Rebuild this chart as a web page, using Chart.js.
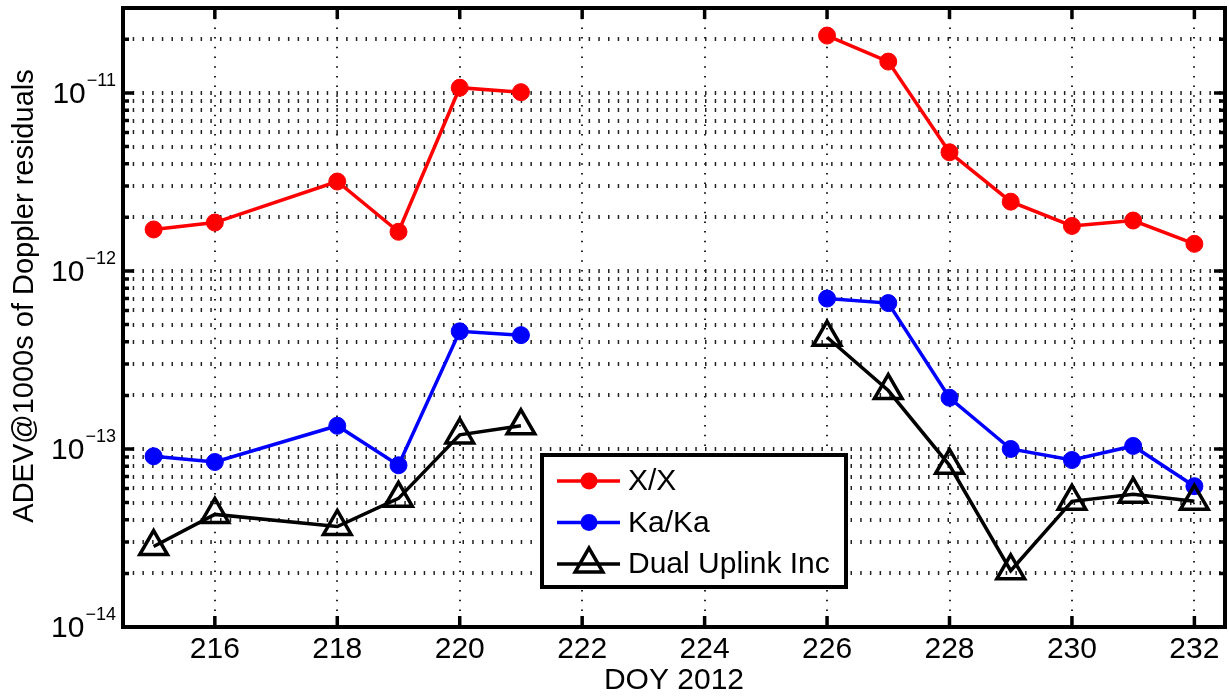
<!DOCTYPE html>
<html>
<head>
<meta charset="utf-8">
<script src="https://cdn.jsdelivr.net/npm/chart.js@4/dist/chart.umd.min.js"></script>
<style>
  body { margin: 0; background: #fff; }
  #wrap { width: 1229px; height: 698px; }
</style>
</head>
<body>
<div id="wrap"><canvas id="adev" width="1229" height="698"></canvas></div>
<script>
// values (DOY 2012, ADEV at 1000 s)
const days = [215, 216, 218, 219, 220, 221, 226, 227, 228, 229, 230, 231, 232];
const xxVals = [1.71e-12, 1.87e-12, 3.18e-12, 1.66e-12, 1.07e-11, 1.01e-11, 2.1e-11, 1.5e-11, 4.64e-12, 2.45e-12, 1.79e-12, 1.92e-12, 1.42e-12];
const kaVals = [9.1e-14, 8.45e-14, 1.35e-13, 8.1e-14, 4.58e-13, 4.36e-13, 7.0e-13, 6.6e-13, 1.94e-13, 1.0e-13, 8.67e-14, 1.04e-13, 6.18e-14];
const dualVals = [2.83e-14, 4.29e-14, 3.67e-14, 5.28e-14, 1.2e-13, 1.35e-13, 4.24e-13, 2.13e-13, 8.1e-14, 2.07e-14, 5.08e-14, 5.57e-14, 5.08e-14];
const seriesNames = ['X/X', 'Ka/Ka', 'Dual Uplink Inc'];

const xTicks = [216, 218, 220, 222, 224, 226, 228, 230, 232];
const yDecades = [-14, -13, -12, -11];
const xMin = 214.5, xMax = 232.5;
const yMin = 1e-14, yMax = 3e-11;

const FONT = "'Liberation Sans', Arial, Helvetica, sans-serif";
Chart.defaults.font.family = FONT;
Chart.defaults.color = '#000';

function pts(vals) {
    return days.map((d, i) => ({ x: d, y: vals[i] }));
}

// no line across the missing days 222-225
const gapSegment = {
    borderColor: ctx => (ctx.p1.parsed.x - ctx.p0.parsed.x > 3 ? 'rgba(0,0,0,0)' : undefined)
};

function drawMarker(ctx, style, x, y, r, color) {
    ctx.beginPath();
    if (style === 'circle') {
        ctx.arc(x, y, r, 0, Math.PI * 2);
        ctx.fillStyle = color;
        ctx.fill();
    } else {
        ctx.moveTo(x, y - r);
        ctx.lineTo(x + r * Math.sin(2 * Math.PI / 3), y + r / 2);
        ctx.lineTo(x - r * Math.sin(2 * Math.PI / 3), y + r / 2);
        ctx.closePath();
        ctx.lineWidth = 3.5;
        ctx.strokeStyle = color;
        ctx.stroke();
    }
}

const framePlugin = {
    id: 'frame',
    afterDatasetsDraw(chart) {
        const { ctx, chartArea: a, scales: { x, y } } = chart;
        ctx.save();

        // inward tick marks
        ctx.strokeStyle = '#000';
        ctx.lineWidth = 3.5;
        ctx.beginPath();
        xTicks.forEach(v => {
            const px = x.getPixelForValue(v);
            ctx.moveTo(px, a.bottom); ctx.lineTo(px, a.bottom - 11);
            ctx.moveTo(px, a.top); ctx.lineTo(px, a.top + 11);
        });
        y.ticks.forEach(t => {
            const py = y.getPixelForValue(t.value);
            const len = t.major ? 11 : 6;
            ctx.moveTo(a.left, py); ctx.lineTo(a.left + len, py);
            ctx.moveTo(a.right, py); ctx.lineTo(a.right - len, py);
        });
        ctx.stroke();
        ctx.lineWidth = 4;
        ctx.strokeRect(a.left, a.top, a.width, a.height);

        // y tick labels 10^n
        ctx.fillStyle = '#000';
        ctx.textBaseline = 'middle';
        ctx.textAlign = 'left';
        yDecades.forEach(e => {
            const py = y.getPixelForValue(Math.pow(10, e));
            const exp = '\u2212' + Math.abs(e);
            ctx.font = '18px ' + FONT;
            const ew = ctx.measureText(exp).width;
            ctx.font = '30px ' + FONT;
            const bw = ctx.measureText('10').width;
            const right = a.left - 7;
            ctx.fillText('10', right - ew - bw - 1, py + 2);
            ctx.font = '18px ' + FONT;
            ctx.fillText(exp, right - ew, py - 12);
        });

        // y axis title
        ctx.save();
        ctx.translate(33, 296);
        ctx.rotate(-Math.PI / 2);
        ctx.font = '29px ' + FONT;
        ctx.textAlign = 'center';
        ctx.textBaseline = 'alphabetic';
        ctx.fillText('ADEV@1000s of Doppler residuals', 0, 0);
        ctx.restore();

        // legend box
        const lx = 542, ly = 455, lw = 304, lh = 132;
        ctx.fillStyle = '#fff';
        ctx.fillRect(lx, ly, lw, lh);
        ctx.lineWidth = 4;
        ctx.strokeStyle = '#000';
        ctx.strokeRect(lx, ly, lw, lh);
        chart.data.datasets.forEach((ds, i) => {
            const ry = 481 + i * 41.5;
            ctx.beginPath();
            ctx.moveTo(557, ry); ctx.lineTo(620, ry);
            ctx.lineWidth = 3.5;
            ctx.strokeStyle = ds.borderColor;
            ctx.stroke();
            drawMarker(ctx, ds.pointStyle, 589, ry, ds.pointRadius, ds.borderColor);
            ctx.fillStyle = '#000';
            ctx.font = '30px ' + FONT;
            ctx.textAlign = 'left';
            ctx.textBaseline = 'middle';
            ctx.fillText(ds.label, 628, ry + 1);
        });

        ctx.restore();
    }
};

new Chart(document.getElementById('adev').getContext('2d'), {
    type: 'line',
    data: {
        datasets: [
            {
                label: seriesNames[0],
                data: pts(xxVals),
                borderColor: '#ff0000',
                backgroundColor: '#ff0000',
                borderWidth: 3.5,
                pointStyle: 'circle',
                pointRadius: 8.5,
                pointBorderWidth: 1,
                segment: gapSegment,
                order: 3
            },
            {
                label: seriesNames[1],
                data: pts(kaVals),
                borderColor: '#0000ff',
                backgroundColor: '#0000ff',
                borderWidth: 3.5,
                pointStyle: 'circle',
                pointRadius: 8.5,
                pointBorderWidth: 1,
                segment: gapSegment,
                order: 2
            },
            {
                label: seriesNames[2],
                data: pts(dualVals),
                borderColor: '#000000',
                backgroundColor: 'rgba(0,0,0,0)',
                borderWidth: 3.5,
                pointStyle: 'triangle',
                pointRadius: 16,
                pointBorderWidth: 3.5,
                segment: gapSegment,
                order: 1
            }
        ]
    },
    options: {
        responsive: false,
        animation: false,
        devicePixelRatio: 1,
        layout: { autoPadding: false, padding: { top: 8, right: 4, left: 0, bottom: 0 } },
        plugins: {
            legend: { display: false },
            tooltip: { enabled: false }
        },
        scales: {
            x: {
                type: 'linear',
                min: xMin,
                max: xMax,
                afterBuildTicks: scale => { scale.ticks = xTicks.map(v => ({ value: v })); },
                afterFit: scale => { scale.height = 71; },
                ticks: {
                    font: { size: 30 },
                    color: '#000',
                    padding: 5,
                    maxRotation: 0,
                    callback: v => String(v)
                },
                grid: { color: '#222', lineWidth: 2, drawTicks: false },
                border: { display: false, dash: [1.5, 8.2] },
                title: {
                    display: true,
                    text: 'DOY 2012',
                    font: { size: 30, lineHeight: 1 },
                    color: '#000',
                    padding: { top: 0, bottom: 2 }
                }
            },
            y: {
                type: 'logarithmic',
                min: yMin,
                max: yMax,
                afterBuildTicks: scale => {
                    const t = [];
                    yDecades.forEach(e => {
                        for (let m = 1; m <= 9; m++) {
                            const v = m * Math.pow(10, e);
                            if (v >= yMin * 0.999 && v < yMax * 0.999) t.push({ value: v, major: m === 1 });
                        }
                    });
                    scale.ticks = t;
                },
                afterFit: scale => { scale.width = 123; },
                ticks: { display: false },
                grid: { color: '#222', lineWidth: 4, drawTicks: false },
                border: { display: false, dash: [1.5, 8.2] }
            }
        }
    },
    plugins: [framePlugin]
});
</script>
</body>
</html>
